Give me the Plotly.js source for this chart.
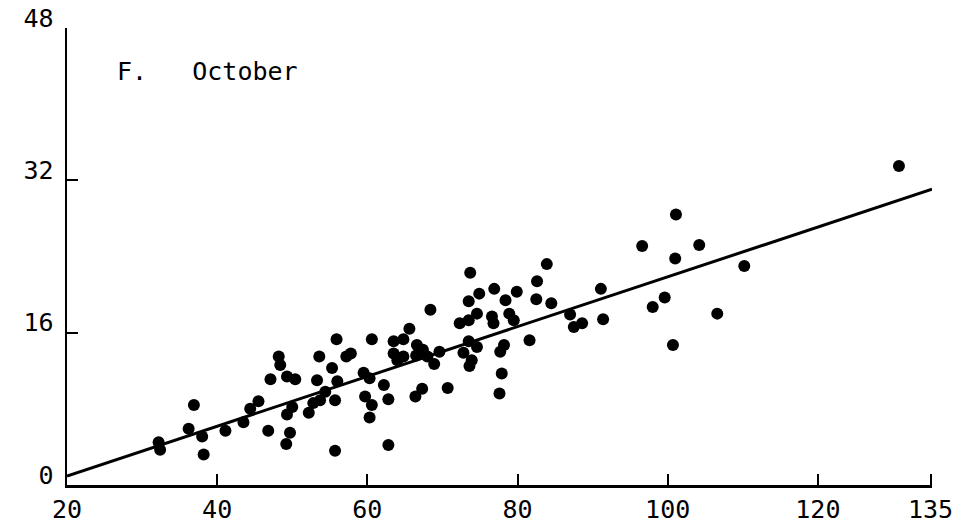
<!DOCTYPE html>
<html>
<head>
<meta charset="utf-8">
<script src="https://cdn.plot.ly/plotly-3.0.1.min.js"></script>
<style>html,body{margin:0;padding:0;background:#fff;}#chart{width:977px;height:531px;}</style>
</head>
<body>
<div id="chart"></div>
<script>
// Scatter data (October)
const xVals = [32.2, 32.4, 36.2, 36.9, 38.0, 38.2, 41.1, 43.5, 44.4, 45.5,
  46.8, 47.1, 48.2, 48.4, 49.3, 50.4, 49.3, 50.0, 49.7, 49.2,
  52.2, 52.8, 53.7, 54.4, 55.7, 53.3, 53.6, 55.3, 56.0, 55.9,
  55.7, 57.2, 57.8, 59.5, 60.3, 59.7, 60.6, 60.3, 60.6, 62.2,
  62.8, 62.8, 63.5, 64.8, 63.5, 64.0, 64.8, 65.6, 66.6, 67.4,
  66.5, 68.0, 68.9, 69.6, 66.4, 67.3, 68.4, 70.7, 72.3, 73.5,
  74.6, 73.5, 74.9, 73.7, 76.9, 76.6, 76.8, 78.4, 79.9, 78.9,
  79.5, 73.5, 74.6, 72.8, 73.9, 73.6, 78.2, 77.7, 77.9, 77.6,
  81.6, 82.5, 82.6, 83.9, 84.5, 87.0, 87.5, 88.6, 91.1, 91.4,
  96.6, 98.0, 99.6, 100.7, 101.0, 101.1, 104.2, 106.6, 110.2, 130.8];
const yVals = [4.5, 3.7, 5.9, 8.4, 5.1, 3.2, 5.7, 6.6, 8.0, 8.8,
  5.7, 11.1, 13.5, 12.6, 11.4, 11.1, 7.4, 8.2, 5.5, 4.3,
  7.6, 8.6, 8.9, 9.8, 8.9, 11.0, 13.5, 12.3, 10.9, 15.3,
  3.6, 13.5, 13.8, 11.8, 11.2, 9.3, 8.4, 7.1, 15.3, 10.5,
  9.0, 4.2, 15.1, 15.3, 13.8, 13.1, 13.5, 16.4, 14.7, 14.2,
  13.6, 13.5, 12.7, 14.0, 9.3, 10.1, 18.4, 10.2, 17.0, 17.3,
  18.0, 19.3, 20.1, 22.3, 20.6, 17.7, 17.0, 19.4, 20.3, 18.0,
  17.3, 15.1, 14.5, 13.9, 13.1, 12.5, 14.7, 14.0, 11.7, 9.6,
  15.2, 19.5, 21.4, 23.2, 19.1, 17.9, 16.6, 17.0, 20.6, 17.4,
  25.1, 18.7, 19.7, 14.7, 23.8, 28.4, 25.2, 18.0, 23.0, 33.5];

// Fitted regression line (as drawn in the reference)
const fitIntercept = -4.285;
const fitSlope = 0.2615;
const fitX = [20, 135.2];
const fitY = fitX.map(x => fitIntercept + fitSlope * x);

// Axis ticks
const xTicks = [20, 40, 60, 80, 100, 120, 135];
const xTickText = ['20', '40', '60', '80', '100', '120', '135'];
const yTicks = [0, 16, 32, 48];
const yTickText = ['0', '16', '32', '48'];
const panelLabel = 'F.\u00A0\u00A0\u00A0October';

const FONT = '"DejaVu Sans Mono", "Liberation Mono", monospace';

const traces = [
  {
    x: fitX, y: fitY, mode: 'lines', type: 'scatter',
    line: {color: '#000', width: 3}, hoverinfo: 'skip', showlegend: false
  },
  {
    x: xVals, y: yVals, mode: 'markers', type: 'scatter',
    marker: {color: '#000', size: 12, line: {width: 0}}, showlegend: false
  }
];

const layout = {
  width: 977, height: 531,
  margin: {l: 67, r: 45, t: 28, b: 46, pad: 0},
  paper_bgcolor: '#fff', plot_bgcolor: '#fff',
  font: {family: FONT, size: 25, color: '#000'},
  showlegend: false,
  xaxis: {
    range: [20, 135.2], tickmode: 'array', tickvals: xTicks, ticktext: xTickText,
    showline: true, linecolor: '#000', linewidth: 2.5,
    ticks: 'inside', ticklen: 11, tickwidth: 2, tickcolor: '#000',
    showgrid: false, zeroline: false,
    tickfont: {family: FONT, size: 25, color: '#000'},
    ticklabelstandoff: 0
  },
  yaxis: {
    range: [0, 48], tickmode: 'array', tickvals: yTicks, ticktext: yTickText,
    showline: true, linecolor: '#000', linewidth: 2.5,
    ticks: 'inside', ticklen: 11, tickwidth: 2, tickcolor: '#000',
    showgrid: false, zeroline: false,
    tickfont: {family: FONT, size: 25, color: '#000'},
    ticklabelstandoff: 6, ticklabelshift: -10
  },
  annotations: [{
    text: panelLabel, xref: 'paper', yref: 'paper',
    x: 0.056, y: 0.905, xanchor: 'left', yanchor: 'middle',
    showarrow: false, font: {family: FONT, size: 25, color: '#000'}
  }]
};

Plotly.newPlot('chart', traces, layout, {displayModeBar: false, staticPlot: true});
</script>
</body>
</html>
